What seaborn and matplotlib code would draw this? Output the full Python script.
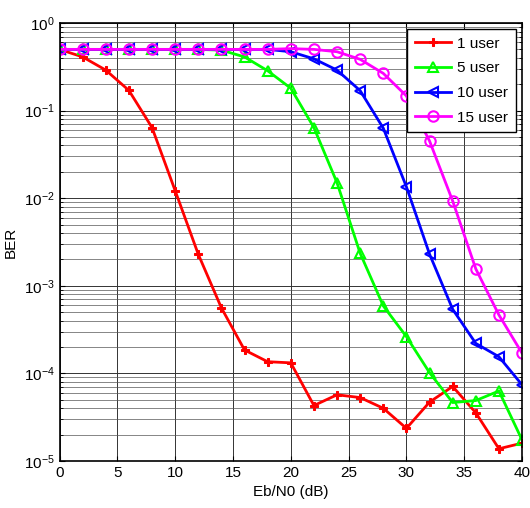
import numpy as np
import pandas as pd
import seaborn as sns
import matplotlib
matplotlib.use("Agg")
import matplotlib.pyplot as plt
from matplotlib.ticker import LogLocator, NullFormatter

snr_db = [0, 2, 4, 6, 8, 10, 12, 14, 16, 18, 20, 22, 24, 26, 28, 30, 32, 34, 36, 38, 40]

ber_1user = [0.5, 0.41, 0.29, 0.17, 0.064, 0.0122, 0.00229, 5.6e-4, 1.85e-4, 1.36e-4, 1.32e-4,
             4.3e-5, 5.7e-5, 5.3e-5, 4.0e-5, 2.36e-5, 4.7e-5, 7.1e-5, 3.55e-5, 1.38e-5, 1.6e-5]
ber_5user = [0.5, 0.5, 0.5, 0.5, 0.5, 0.5, 0.5, 0.49, 0.41, 0.285, 0.18,
             0.064, 0.015, 0.00235, 5.9e-4, 2.63e-4, 1.02e-4, 4.65e-5, 4.9e-5, 6.3e-5, 1.74e-5]
ber_10user = [0.5, 0.5, 0.5, 0.5, 0.5, 0.5, 0.5, 0.5, 0.5, 0.5, 0.47,
              0.39, 0.29, 0.169, 0.063, 0.0135, 0.0023, 5.4e-4, 2.2e-4, 1.55e-4, 7.4e-5]
ber_15user = [0.5, 0.5, 0.5, 0.5, 0.5, 0.5, 0.5, 0.5, 0.5, 0.5, 0.51,
              0.50, 0.47, 0.385, 0.266, 0.147, 0.045, 0.0093, 0.00156, 4.65e-4, 1.7e-4]

labels = ["1 user", "5 user", "10 user", "15 user"]
colors = ["#ff0000", "#00ff00", "#0000ff", "#ff00ff"]
markers = ["P", "^", "<", "o"]

plt.rcParams["font.family"] = ["Liberation Sans", "DejaVu Sans"]
plt.rcParams["mathtext.fontset"] = "custom"
plt.rcParams["mathtext.rm"] = "Liberation Sans"

fig = plt.figure(figsize=(5.3, 5.08), dpi=100)
ax = fig.add_axes([0.1123, 0.0925, 0.8727, 0.8622])

for lab, vals, c, m in zip(labels, [ber_1user, ber_5user, ber_10user, ber_15user], colors, markers):
    df = pd.DataFrame({"snr": snr_db, "ber": vals})
    if m == "P":
        sns.lineplot(data=df, x="snr", y="ber", ax=ax, color=c, marker=m, markersize=6,
                     markeredgecolor=c, markerfacecolor=c, linewidth=2, label=lab)
    else:
        sns.lineplot(data=df, x="snr", y="ber", ax=ax, color=c, marker=m, markersize=7.5,
                     markeredgecolor=c, markerfacecolor="none", markeredgewidth=1.5,
                     linewidth=2, label=lab)

ax.set_yscale("log")
ax.set_xlim(0, 40)
ax.set_ylim(1e-5, 1)
ax.set_xticks(range(0, 41, 5))
ax.yaxis.set_major_locator(LogLocator(base=10, numticks=10))
ax.yaxis.set_minor_locator(LogLocator(base=10, subs=np.arange(2, 10), numticks=20))
ax.yaxis.set_minor_formatter(NullFormatter())

ax.grid(True, which="major", axis="both", color="#333333", linewidth=0.7)
ax.grid(True, which="minor", axis="y", color="#555555", linewidth=0.5)
ax.tick_params(which="both", direction="in", top=True, right=True, labelsize=11)
ax.tick_params(which="minor", length=2)
for s in ax.spines.values():
    s.set_linewidth(1.2)

ax.set_xlabel("Eb/N0 (dB)", fontsize=11)
ax.set_ylabel("BER", fontsize=11)

leg = ax.legend(loc="upper right", fontsize=11, fancybox=False, framealpha=1,
                edgecolor="black", borderaxespad=0.4, handlelength=2.4,
                labelspacing=0.7, borderpad=0.5, handletextpad=0.4)
leg.get_frame().set_linewidth(1.0)

fig.savefig("out.png", dpi=100)
